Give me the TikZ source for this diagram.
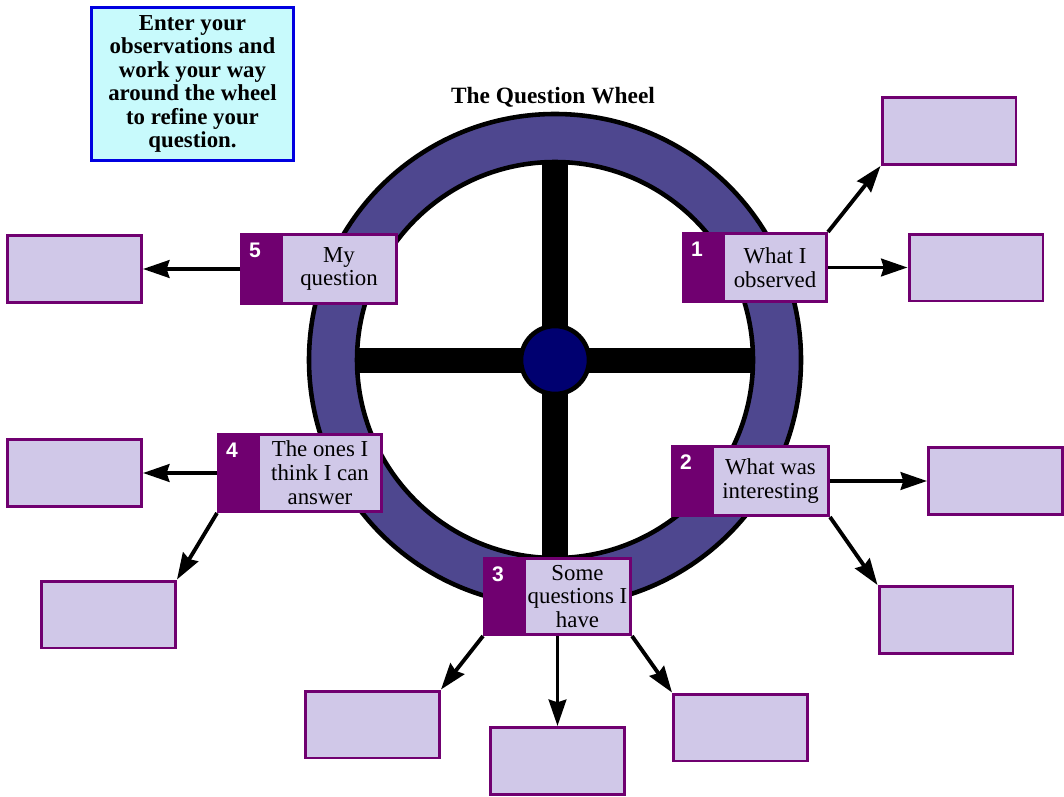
\documentclass[tikz,border=0pt]{standalone}
\usepackage{fontspec}
\setmainfont{Liberation Serif}
\newfontfamily\numfont{Liberation Sans}
\usepackage{tikz}
\usetikzlibrary{arrows.meta,positioning}
\definecolor{qpurple}{HTML}{700070}
\definecolor{qlav}{HTML}{D0C8E8}
\definecolor{qring}{HTML}{4E478F}
\definecolor{qhub}{HTML}{000070}
\definecolor{qcyan}{HTML}{C8FAFC}
\definecolor{qblue}{HTML}{0000E0}

\begin{document}
\begin{tikzpicture}[x=0.02cm,y=-0.02cm,>={Stealth[length=15pt,width=10pt,inset=1.5pt]},
  stepbox/.style 2 args={draw=qpurple,line width=1.7pt,fill=qlav,minimum width=#1*0.02cm,minimum height=#2*0.02cm,inner sep=1pt,align=center,font=\fontsize{13}{13.6}\selectfont},
  numbox/.style 2 args={draw=qpurple,line width=1.7pt,fill=qpurple,minimum width=0.74cm,minimum height=#2*0.02cm,inner sep=0pt,
    label={[anchor=north west,inner sep=0pt,xshift=5pt,yshift=-5.5pt,text=white,font=\numfont\bfseries\fontsize{12}{12}\selectfont]north west:#1}},
  answer/.style={draw=qpurple,line width=1.7pt,fill=qlav,minimum width=2.68cm,minimum height=1.34cm},
  link/.style={->,line width=2.2pt}]
  \useasboundingbox (0,0) rectangle (1064,797);
  % wheel
  \fill (354,348) rectangle (756,373);
  \fill (542,160) rectangle (568,560);
  \filldraw[fill=qring,line width=2.6pt,even odd rule] (555,360) circle[radius=246] (555,360) circle[radius=198];
  \filldraw[fill=qhub,line width=2.6pt] (555,360) circle[radius=34];
  \node[font=\bfseries\fontsize{13.3}{13.6}\selectfont] (title) at (553,97) {The Question Wheel};
  \node[draw=qblue,fill=qcyan,line width=2.2pt,minimum width=4.04cm,minimum height=3.06cm,align=center,font=\bfseries\fontsize{13}{13.4}\selectfont] (intro) at (192.5,84) {Enter your\\observations and\\work your way\\around the wheel\\to refine your\\question.};
  % steps round the wheel
  \node[stepbox={103}{68}] (s1) at (775,267.5) {What I\\observed};
  \node[numbox={1}{68},left=0pt of s1] (n1) {};
  \node[stepbox={116}{69}] (s2) at (770.5,481) {What was\\interesting};
  \node[numbox={2}{69},left=0pt of s2] (n2) {};
  \node[stepbox={106}{76}] (s3) at (577.5,596.5) {Some\\questions I\\have};
  \node[numbox={3}{76},left=0pt of s3] (n3) {};
  \node[stepbox={123}{77}] (s4) at (320,473) {The ones I\\think I can\\answer};
  \node[numbox={4}{77},left=0pt of s4] (n4) {};
  \node[stepbox={115}{69}] (s5) at (339,269) {My\\question};
  \node[numbox={5}{69},left=0pt of s5] (n5) {};
  % empty boxes
  \node[answer] (a1) at (949,131) {};
  \node[answer] (a2) at (976,267.5) {};
  \node[answer] (a3) at (995.5,481) {};
  \node[answer] (a4) at (946,620) {};
  \node[answer] (a5) at (740.5,727.5) {};
  \node[answer] (a6) at (557.5,761) {};
  \node[answer] (a7) at (372.5,724.5) {};
  \node[answer] (a8) at (108.5,614.5) {};
  \node[answer] (a9) at (74.5,473) {};
  \node[answer] (a10) at (74.5,269) {};
  \draw[link] (s1.north east) -- (a1.south west);
  \draw[link] (s1.east) -- (a2.west);
  \draw[link] (s2.east) -- (a3.west);
  \draw[link] (s2.south east) -- (a4.north west);
  \draw[link] (s3.south east) -- (a5.north west);
  \draw[link] (a6.north |- s3.south) -- (a6.north);
  \draw[link] (n3.south west) -- (a7.north east);
  \draw[link] (n4.south west) -- (a8.north east);
  \draw[link] (n4.west) -- (a9.east);
  \draw[link] (n5.west) -- (a10.east);
\end{tikzpicture}
\end{document}
